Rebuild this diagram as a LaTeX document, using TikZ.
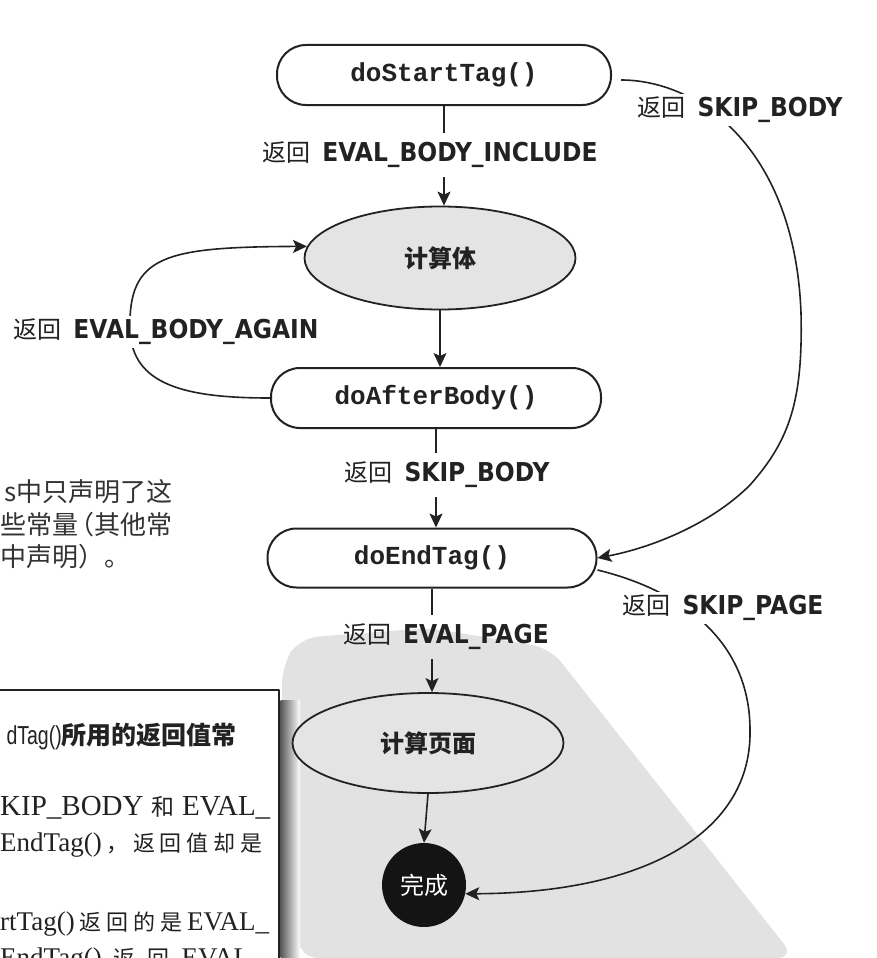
\documentclass[tikz,border=0pt]{standalone}
\usepackage{fontspec}
\setmainfont{Liberation Serif}
\newfontfamily\cjk{Noto Sans CJK SC}
\newfontfamily\monof{Liberation Mono}
\newfontfamily\labf[FakeStretch=0.9]{DejaVu Sans}
\newfontfamily\sansn[FakeStretch=0.75]{Liberation Sans}
\usetikzlibrary{shapes.geometric,arrows.meta}
\definecolor{ink}{HTML}{222222}
\definecolor{elfill}{HTML}{E4E4E4}
\definecolor{wm}{HTML}{E2E2E2}
\definecolor{handc}{HTML}{333333}
\newcommand\myret[1]{{\cjk\fontsize{24}{28}\selectfont 返回}\hspace{12pt}{\labf\bfseries\fontsize{26}{30}\selectfont #1}}
\newcommand\cz{\cjk\fontsize{22}{26}\selectfont}
\newcommand\hnd{\cjk\fontsize{26}{30}\selectfont\color{handc}}
\begin{document}
\begin{tikzpicture}[x=1pt,y=-1pt,line join=round,
  pill/.style={draw=ink,line width=2pt,rounded corners=29pt,minimum height=60pt,
    font=\monof\bfseries\fontsize{26}{30}\selectfont,text=ink,inner sep=0pt},
  evalnode/.style={ellipse,draw=ink,line width=1.8pt,fill=elfill,
    font=\cjk\bfseries\fontsize{24}{28}\selectfont,text=ink,inner sep=0pt},
  lbl/.style={text=ink,inner xsep=2pt,inner ysep=9pt},
  lblw/.style={text=ink,inner xsep=2pt,inner ysep=3pt,fill=white},
  conn/.style={draw=ink,line width=1.6pt},
  arr/.style={conn,-{Stealth[length=14pt,width=13pt,inset=3pt]}},
  boxtxt/.style={inner sep=0pt,text=ink}]
\useasboundingbox (0,0) rectangle (876,958);
\fill[white] (0,0) rectangle (876,958);
% watermark band
\fill[wm,rounded corners=18pt] (283,800) -- (282,665) -- (300,638) -- (430,628) -- (550,648) -- (795,958) -- (300,958) -- cycle;
% left note box
\shade[left color=black!65,right color=white] (280.5,700) rectangle (300,958);
\draw[line width=2.5pt,draw=ink] (-5,690) -- (279,690) -- (279,965);
\node[boxtxt,anchor=base east] (t1) at (237,744) {{\sansn\fontsize{26}{30}\selectfont dTag()}{\cjk\bfseries\fontsize{25}{30}\selectfont 所用的返回值常}};
\node[boxtxt,anchor=base west] (t2) at (0,815) {\fontsize{29}{34}\selectfont\makebox[270pt][s]{KIP\_BODY\hfil{\cjk\fontsize{23}{27}\selectfont 和}\hfil EVAL\_}};
\node[boxtxt,anchor=base west] (t3) at (0,851) {\fontsize{27}{32}\selectfont\makebox[262pt][s]{EndTag()\hfil{\cz ，}\hfil{\cz 返}\hfil{\cz 回}\hfil{\cz 值}\hfil{\cz 却}\hfil{\cz 是}}};
\node[boxtxt,anchor=base west] (t4) at (0,930) {\fontsize{27}{32}\selectfont\makebox[269pt][s]{rtTag()\hfil{\cz 返}\hfil{\cz 回}\hfil{\cz 的}\hfil{\cz 是}\hfil EVAL\_}};
\node[boxtxt,anchor=base west] (t5) at (0,966) {\fontsize{27}{32}\selectfont\makebox[250pt][s]{EndTag()\hfil{\cz 返}\hfil{\cz 回}\hfil EVAL}};
% handwritten note
\node[inner sep=0pt,anchor=west] (h1) at (4,492) {\hnd s中只声明了这};
\node[inner sep=0pt,anchor=west] (h2) at (0,525) {\hnd 些常量\hspace{-10pt}（其他常};
\node[inner sep=0pt,anchor=west] (h3) at (0,557) {\hnd 中声明）。};
% main nodes
\node[pill,minimum width=334pt] (dst) at (444,75) {doStartTag()};
\node[lbl] (l1) at (430,155) {\myret{EVAL\_BODY\_INCLUDE}};
\node[evalnode,minimum width=271pt,minimum height=103pt] (body) at (440,258) {计算体};
\node[pill,minimum width=330pt] (dab) at (436,398) {doAfterBody()};
\node[lbl] (l3) at (447,475) {\myret{SKIP\_BODY}};
\node[pill,minimum width=329pt,minimum height=59pt] (det) at (432,558) {doEndTag()};
\node[lbl] (l4) at (446,637) {\myret{EVAL\_PAGE}};
\node[evalnode,minimum width=271pt,minimum height=100pt] (page) at (428,743) {计算页面};
\node[circle,fill=black!92,minimum size=84pt,inner sep=0pt,text=white,
  font=\cjk\fontsize{24}{28}\selectfont] (done) at (424,885) {完成};
% straight connectors
\draw[conn] (dst.south) -- (dst.south |- l1.north);
\draw[arr] (dst.south |- l1.south) -- (dst.south |- body.north);
\draw[arr] (body.south) -- (body.south |- dab.north);
\draw[conn] (dab.south) -- (dab.south |- l3.north);
\draw[arr] (dab.south |- l3.south) -- (dab.south |- det.north);
\draw[conn] (det.south) -- (det.south |- l4.north);
\draw[arr] (det.south |- l4.south) -- (det.south |- page.north);
\draw[arr] (page.south) -- (done.north);
% curved connectors
\draw[arr] (dab.west) .. controls (185,398) and (132,385) .. (130,330)
  .. controls (128,255) and (165,247) .. (body.175);
\draw[arr] ([xshift=9pt,yshift=-5pt]dst.east) .. controls (700,80) and (795,150) .. (801,313)
  .. controls (803,400) and (790,440) .. (750,485)
  .. controls (710,525) and (650,548) .. (det.east);
\draw[arr] ([yshift=-12pt]det.east) .. controls (680,590) and (750,640) .. (750,730)
  .. controls (752,830) and (650,893) .. (done.-12);
% labels over curves
\node[lblw] (l2) at (166,332) {\myret{EVAL\_BODY\_AGAIN}};
\node[lblw] (l5) at (740,110) {\myret{SKIP\_BODY}};
\node[lblw] (l6) at (723,608) {\myret{SKIP\_PAGE}};
\end{tikzpicture}
\end{document}
